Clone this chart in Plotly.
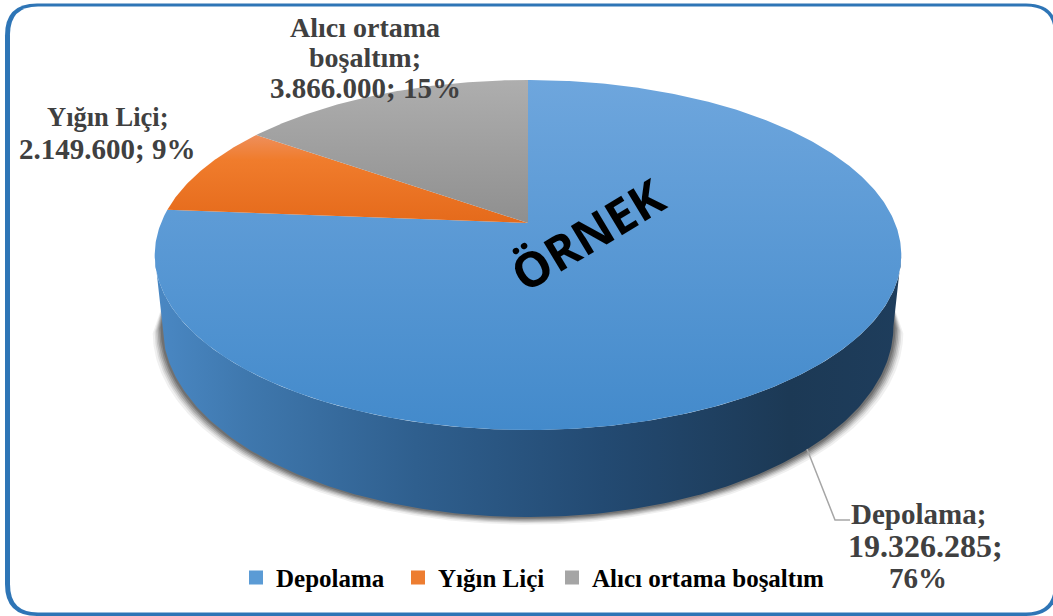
import numpy as np
import plotly.graph_objects as go

categories = ["Depolama", "Yığın Liçi", "Alıcı ortama boşaltım"]
values = [19326285, 2149600, 3866000]
percent_labels = ["76%", "9%", "15%"]
value_labels = ["19.326.285", "2.149.600", "3.866.000"]

# pie geometry on a pixel-sized data space
W, H = 1053, 616
CX, APEX_Y, TOP_Y, BOT_Y, R = 528, 223, 80, 430, 367
c = (TOP_Y + BOT_Y - 2 * APEX_Y) / (BOT_Y - TOP_Y)
b = TOP_Y * (1 + c) - APEX_Y
TOP_YC, BASE_YC, BASE_KX, BASE_KY = 255, 326, 0.979, 1.092


def project(theta):
    """clockwise angle from 12 o'clock on the pie disc -> page position"""
    u, v = np.sin(theta), np.cos(theta)
    d = 1 + c * v
    return CX + R * u / d, (APEX_Y + b * v) / d


def wedge(a0, a1):
    t = np.linspace(a0, a1, max(8, int((a1 - a0) * 120)))
    x, y = project(t)
    return np.r_[CX, x, CX], np.r_[APEX_Y, y, APEX_Y]


def bottom(t, grow=0.0, drop=0.0):
    x, y = project(t)
    return CX + (x - CX) * BASE_KX + np.sign(x - CX) * grow * np.abs(np.sin(t)), \
        BASE_YC + (y - TOP_YC) * BASE_KY + drop


def rounded(l, t, r, b_, rad):
    return (f"M {l} {t+rad} Q {l} {t} {l+rad} {t} L {r-rad} {t} Q {r} {t} {r} {t+rad} "
            f"L {r} {b_-rad} Q {r} {b_} {r-rad} {b_} L {l+rad} {b_} Q {l} {b_} {l} {b_-rad} Z")


total = sum(values)
ang = np.cumsum([0] + values) / total * 2 * np.pi
# rim extremes: front part of the pie wall
t_right = np.pi - np.arccos(c)
t_left = 2 * np.pi - t_right
tt = np.linspace(t_right, t_left, 240)

fig = go.Figure()

# soft shadow under the wall
xt, yt = project(tt)
for off, alpha in [(10, 0.07), (8, 0.10), (6.5, 0.14), (5, 0.18), (3.5, 0.22), (2, 0.25)]:
    xs, ys = bottom(tt, grow=off, drop=off * 0.75)
    fig.add_trace(go.Scatter(
        x=np.r_[CX + (xt - CX) * 0.97, xs[::-1]], y=np.r_[yt + 40, ys[::-1]], mode="lines",
        fill="toself", fillcolor=f"rgba(40,40,40,{alpha})", line=dict(width=0),
        hoverinfo="skip", showlegend=False))

# pie wall (front, only the first slice is seen from this side)
xb, yb = bottom(tt)
fig.add_trace(go.Scatter(
    x=np.r_[xt, xb[::-1]], y=np.r_[yt, yb[::-1]], mode="lines", fill="toself",
    line=dict(width=0), hoverinfo="skip", showlegend=False,
    fillgradient=dict(type="horizontal", start=155, stop=901, colorscale=[
        [0, "#4A88C4"], [0.12, "#3F78AE"], [0.35, "#2F5F8E"], [0.6, "#234A72"],
        [0.85, "#1C3955"], [1, "#1E3D5C"]])))

# pie top
grads = [
    [[0, "#438ACB"], [1, "#6EA6DD"]],
    [[0, "#E56A1B"], [0.72, "#F07C2C"], [1, "#EE8F5C"]],
    [[0, "#8F8F8F"], [1, "#AEAEAE"]],
]
for i, name in enumerate(categories):
    x, y = wedge(ang[i], ang[i + 1])
    fig.add_trace(go.Scatter(
        x=x, y=y, mode="lines", fill="toself", line=dict(width=0), name=name,
        showlegend=False, hovertemplate=f"{name}: {value_labels[i]}; {percent_labels[i]}<extra></extra>",
        fillgradient=dict(type="vertical", colorscale=grads[i])))

# legend entries: one legend per entry, so each can sit at its own place
swatch = ["#5B9BD5", "#ED7D31", "#A5A5A5"]
legend_ids = ["legend", "legend2", "legend3"]
legend_left = [236, 398, 552]
for name, col, lid in zip(categories, swatch, legend_ids):
    fig.add_trace(go.Scatter(x=[None], y=[None], mode="markers", name=f"<b>{name}</b>", legend=lid,
                             marker=dict(symbol="square", size=14, color=col)))

# leader line of the first slice
fig.add_trace(go.Scatter(x=[807, 835, 850], y=[449, 520, 520], mode="lines",
                         line=dict(color="#A6A6A6", width=1.5), hoverinfo="skip", showlegend=False))

label_lines = [
    (f"{categories[0]};", 918, 514, 29),
    (f"{value_labels[0]};", 925, 546, 32),
    (percent_labels[0], 918, 578, 29),
    (f"{categories[1]};", 107, 117, 26.5),
    (f"{value_labels[1]}; {percent_labels[1]}", 107, 149, 29),
    ("Alıcı ortama", 365, 27, 28),
    ("boşaltım;", 365, 57, 28),
    (f"{value_labels[2]}; {percent_labels[2]}", 365, 88, 29),
]
annotations = [dict(text=f"<b>{t}</b>", x=x, y=y, xref="x", yref="y", showarrow=False, align="center",
                    font=dict(family="Liberation Serif", size=s, color="#404040"))
               for t, x, y, s in label_lines]
annotations.append(dict(text="<b>ÖRNEK</b>", x=587, y=234, xref="x", yref="y", showarrow=False,
                        textangle=-31, font=dict(family="Open Sans", size=48, color="#000000")))

legend_style = dict(
    orientation="h", y=0.0994, xanchor="left", yanchor="top", bgcolor="rgba(0,0,0,0)",
    itemwidth=30, itemclick=False, itemdoubleclick=False,
    font=dict(family="Liberation Serif", size=25, color="#000000"))

fig.update_layout(
    width=W, height=H, margin=dict(l=0, r=0, t=0, b=0), paper_bgcolor="white", plot_bgcolor="white",
    xaxis=dict(range=[0, W], visible=False, fixedrange=True),
    yaxis=dict(range=[H, 0], visible=False, fixedrange=True),
    annotations=annotations,
    shapes=[
        dict(type="path", xref="x", yref="y", layer="below", path=rounded(5, 3.5, 1058, 616, 32),
             line=dict(width=0), fillcolor="#2E75B6"),
        dict(type="path", xref="x", yref="y", layer="below", path=rounded(10, 6.5, 1054, 612.5, 28),
             line=dict(width=0), fillcolor="white"),
    ],
    **{lid: dict(legend_style, x=left / W) for lid, left in zip(legend_ids, legend_left)},
)
fig.write_html("out.html", config=dict(displayModeBar=False),
               post_script="document.body.style.margin='0';document.documentElement.style.overflow='hidden';")
